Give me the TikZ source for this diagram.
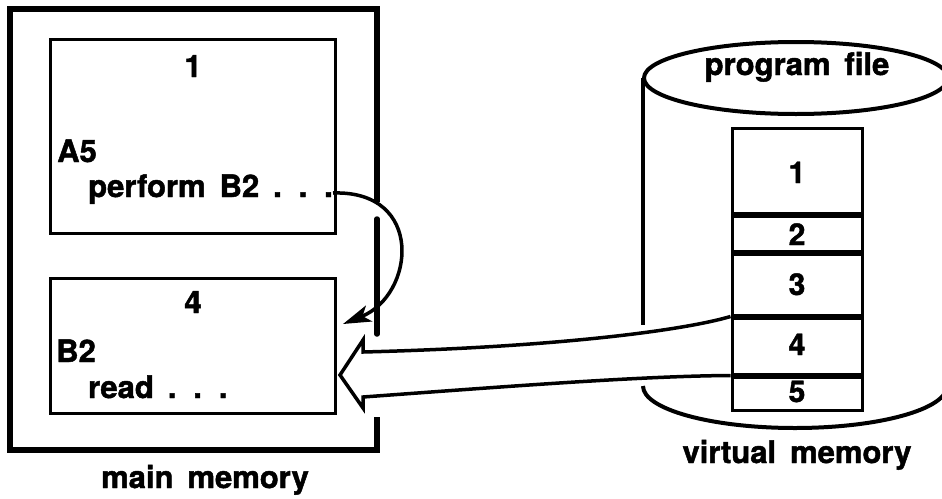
\documentclass[tikz,border=0pt]{standalone}
\usepackage{fontspec}
\setmainfont{TeX Gyre Heros}[BoldFeatures={FakeBold=1.5}]
\usetikzlibrary{arrows.meta}
\newcommand\lblfont{\fontsize{31}{36}\selectfont\bfseries\spaceskip 14pt\relax}
\newcommand\digfont{\fontsize{30}{36}\selectfont\bfseries}
\tikzset{
  lbl/.style={font=\lblfont, inner sep=0pt, anchor=base},
  lblw/.style={lbl, anchor=base west},
  dig/.style={font=\digfont, inner sep=0pt, anchor=base},
  membox/.style={draw, line width=3pt, minimum width=285pt, inner sep=0pt},
  page/.style={draw, line width=3pt, minimum width=130pt, inner sep=0pt},
  frame/.style={line width=5.5pt},
  thickline/.style={line width=4pt},
}
\begin{document}
\begin{tikzpicture}[x=1pt,y=-1pt]
\useasboundingbox (0,0) rectangle (942,498);
\clip (0,0) rectangle (942,498);
\fill[white] (0,0) rectangle (942,498);

% main memory frame
\draw[frame, line join=miter] (377,202) -- (377,9) -- (10,9) -- (10,450) -- (377,450) -- (377,417);
\draw[frame, line cap=round] (377,219) -- (377,334);

% pages in main memory
\node[membox, minimum height=194pt] (b1) at (192.5,136) {};
\node[membox, minimum height=135pt] (b4) at (192.5,345.5) {};
\node[lbl] (t1) at (193,77) {1};
\node[lblw] (ta5) at (57,162) {A5};
\node[lblw] (tperf) at (88,197) {perform B2 . . .};
\node[lbl] (t4) at (193,313) {4};
\node[lblw] (tb2) at (56,362) {B2};
\node[lblw] (tread) at (88,398) {read . . .};
\node[lbl] (tmain) at (205,488) {main memory};

% cylinder (virtual memory)
\draw[thickline] (796,78) ellipse [x radius=152, y radius=36];
\draw[thickline] (643,78) -- (643,325);
\draw[thickline] (643,386) arc [start angle=180, end angle=0, x radius=152, y radius=42] -- (947,78);
\node[lbl] (tprog) at (797,75) {program file};
\node[lbl] (tvirt) at (797,463) {virtual memory};

% pages of program file
\node[page, minimum height=85pt] (s1) at (797,170.5) {};
\node[page, minimum height=35pt] (s2) at (797,233.5) {};
\node[page, minimum height=61pt] (s3) at (797,284.5) {};
\node[page, minimum height=56pt] (s4) at (797,346) {};
\node[page, minimum height=33pt] (s5) at (797,393.5) {};
\node[dig] (d1) at (797,183) {1};
\node[dig] (d2) at (797,245) {2};
\node[dig] (d3) at (797,295) {3};
\node[dig] (d4) at (797,355) {4};
\node[dig] (d5) at (797,402) {5};

% paging arrow (hollow)
\coordinate (tip) at (340,375);
\draw[line width=3.5pt, line join=miter]
  (s4.north west) .. controls (685,330) and (560,347) .. (363,352)
  -- (363,340) -- (tip) -- (363,408) -- (363,397)
  .. controls (500,387) and (640,376) .. (s4.south west);

% perform arrow
\coordinate (cs) at (333,193);
\coordinate (ce) at (343,324);
\draw[line width=3.5pt, -{Stealth[length=28pt, width=17pt, inset=7pt]}]
  (cs) .. controls (425,190) and (415,295) .. (ce);
\end{tikzpicture}
\end{document}
